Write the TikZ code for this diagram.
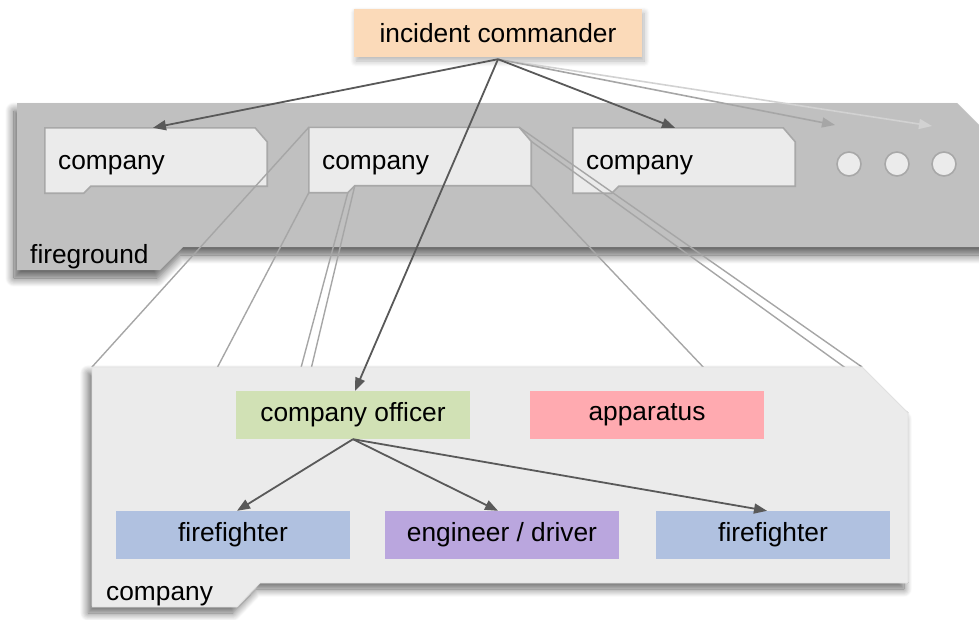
\documentclass[tikz,border=0pt]{standalone}
\usepackage{fontspec}
\setmainfont{Liberation Sans}
\usetikzlibrary{arrows.meta,shadows.blur}

\definecolor{panelgray}{HTML}{C0C0C0}
\definecolor{paleface}{HTML}{EBEBEB}
\definecolor{rimgray}{HTML}{A8A8A8}
\definecolor{linkdark}{HTML}{595959}
\definecolor{projgray}{HTML}{A6A6A6}
\definecolor{fadegray}{HTML}{D2D2D2}
\definecolor{icfill}{HTML}{FBDAB9}
\definecolor{officerfill}{HTML}{D1E1B5}
\definecolor{apparatusfill}{HTML}{FFAAB0}
\definecolor{fighterfill}{HTML}{B0C1E0}
\definecolor{enginefill}{HTML}{BAA6DE}

\tikzset{
  txt/.style={font=\fontsize{26.3}{30}\selectfont, inner sep=0pt},
  role/.style={txt, minimum width=234pt, minimum height=48pt},
  cobox/.style={fill=paleface, draw=rimgray, line width=1.6pt, line join=miter},
  slot/.style={minimum width=222pt, minimum height=65pt, inner sep=0pt},
  dot/.style={circle, minimum size=24pt, inner sep=0pt, fill=paleface, draw=rimgray, line width=1.6pt},
  link/.style={draw=linkdark, line width=1.8pt, -{Triangle[length=13pt,width=10pt]}},
  ghost/.style={line width=1.6pt, -{Triangle[length=13pt,width=10pt]}},
  proj/.style={draw=projgray, line width=1.4pt},
  bigshadow/.style={blur shadow={shadow xshift=-3pt, shadow yshift=-8pt,
      shadow blur radius=9pt, shadow opacity=65, shadow blur steps=12}},
  smallshadow/.style={blur shadow={shadow xshift=2pt, shadow yshift=-4pt,
      shadow blur radius=6pt, shadow opacity=30, shadow blur steps=8}},
}

% chamfered company card drawn round an empty slot node; names its corners
\newcommand\cardoutline[1]{%
  \path[cobox] (#1.north west) coordinate (#1-1)
    -- ([xshift=-12pt]#1.north east) coordinate (#1-2)
    -- ([yshift=-14pt]#1.north east) coordinate (#1-3)
    -- ([yshift=7pt]#1.south east) coordinate (#1-4)
    -- ([xshift=46pt,yshift=7pt]#1.south west) coordinate (#1-5)
    -- ([xshift=39pt]#1.south west) coordinate (#1-6)
    -- (#1.south west) coordinate (#1-7) -- cycle;}

\begin{document}
\begin{tikzpicture}[x=1pt,y=-1pt]
\useasboundingbox (0,0) rectangle (979,619);

% fireground panel
\path[fill=panelgray, bigshadow]
  (17,103) -- (957,103) -- (992,138) -- (992,247) -- (183,247)
  -- (160,270) -- (17,270) -- cycle;
\node[txt, anchor=base west] (fglabel) at (30,263) {fireground};

% company cards on the fireground
\node[slot] (c1) at (156,160.5) {};
\node[slot] (c2) at (420,160) {};
\node[slot] (c3) at (684,160.5) {};
\cardoutline{c1}
\cardoutline{c2}
\cardoutline{c3}
\node[txt, anchor=base west] (c1t) at (58,169) {company};
\node[txt, anchor=base west] (c2t) at (322,169) {company};
\node[txt, anchor=base west] (c3t) at (586,169) {company};

% more companies
\node[dot] (d1) at (849,164) {};
\node[dot] (d2) at (897,164) {};
\node[dot] (d3) at (944,164) {};

% corners of the enlarged company panel
\coordinate (p-1) at (92,367);
\coordinate (p-2) at (862,367);
\coordinate (p-3) at (908,413);
\coordinate (p-4) at (908,583);
\coordinate (p-5) at (260,583);
\coordinate (p-6) at (237,607);
\coordinate (p-7) at (92,607);

% projection lines from the middle card to the enlarged panel
\foreach \k in {1,...,7} { \draw[proj] (c2-\k) -- (p-\k); }

% enlarged company panel
\path[fill=paleface, draw=black!12, line width=0.8pt,
  blur shadow={shadow xshift=-4pt, shadow yshift=-6pt,
    shadow blur radius=8pt, shadow opacity=60, shadow blur steps=12}]
  (p-1) -- (p-2) -- (p-3) -- (p-4) -- (p-5) -- (p-6) -- (p-7) -- cycle;
\node[txt, anchor=base west] (cplabel) at (106,600) {company};

% roles inside the company
\node[role, fill=officerfill] (officer) at (353,415) {company officer};
\node[role, fill=apparatusfill] (apparatus) at (647,415) {apparatus};
\node[role, fill=fighterfill] (ff1) at (233,535) {firefighter};
\node[role, fill=enginefill] (eng) at (502,535) {engineer / driver};
\node[role, fill=fighterfill] (ff2) at (773,535) {firefighter};

\draw[link] (officer.south) -- ([xshift=4pt]ff1.north);
\draw[link] (officer.south) -- ([xshift=-4pt]eng.north);
\draw[link] (officer.south) -- ([xshift=-6pt]ff2.north);

% incident commander
\node[txt, fill=icfill, minimum width=288pt, minimum height=48pt, smallshadow]
  (ic) at (498,33) {incident commander};
\coordinate (icfoot) at ([yshift=-2pt]ic.south);
\coordinate (more1) at (835,125);
\coordinate (more2) at (932,126);

\draw[ghost, draw=fadegray, fill=fadegray] (icfoot) -- (more2);
\draw[ghost, draw=projgray, fill=projgray] (icfoot) -- (more1);
\draw[link] (icfoot) -- ([xshift=-3pt]c1.north);
\draw[link] (icfoot) -- ([xshift=-9pt]c3.north);
\draw[link] (icfoot) -- ([xshift=2pt]officer.north);
\end{tikzpicture}
\end{document}
